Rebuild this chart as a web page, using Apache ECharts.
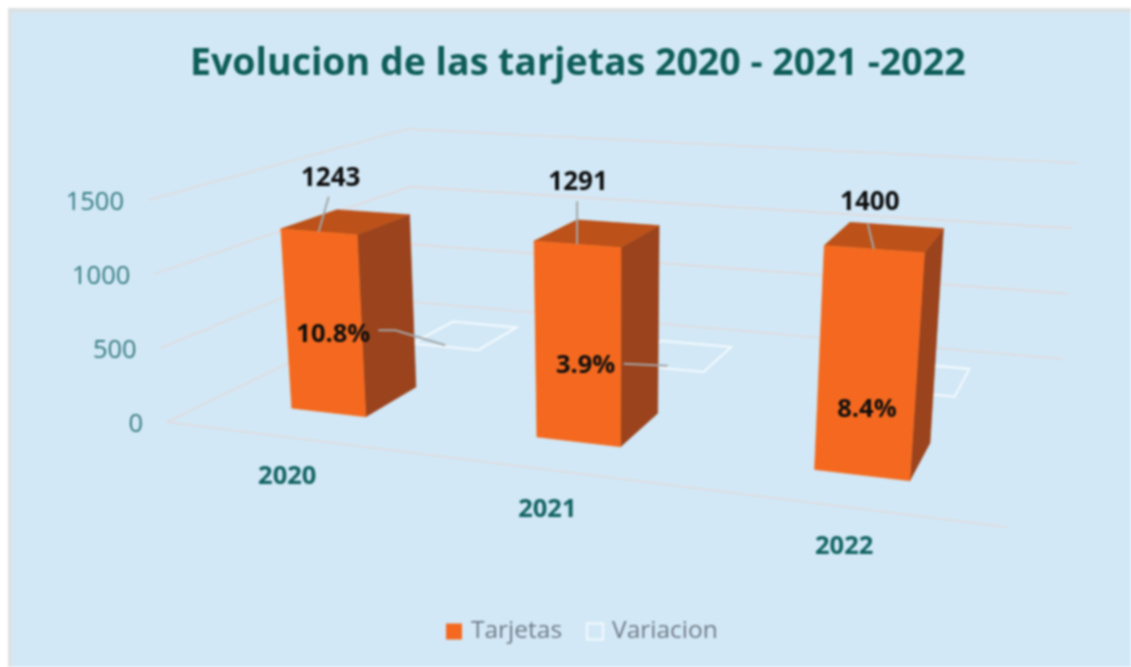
<!DOCTYPE html>
<html>
<head>
<meta charset="utf-8">
<style>
html,body{margin:0;padding:0;background:#fff;}
#chart{width:1131px;height:667px;filter:blur(0.8px);}
</style>
<script src="https://cdn.jsdelivr.net/npm/echarts@6/dist/echarts.min.js"></script>
</head>
<body>
<div id="chart"></div>
<script>
// ---- data ----
const categories = ['2020', '2021', '2022'];
const tarjetas = [1243, 1291, 1400];
const variacion = [0.108, 0.039, 0.084];
const yTicks = [0, 500, 1000, 1500];

// ---- perspective of the 3D box (pixel corners of floor and ceiling) ----
const FLOOR = [[167,422],[1007,527],[1063,359],[414,302]];
const CEIL  = [[148,200],[1031,265],[1077,163],[408,129]];
const BAR_RATIO = 0.315;
const DEPTH = { Tarjetas:[0.153,0.358], Variacion:[0.653,0.858] };
// label placement relative to the projected anchors
const VALUE_OFFSET  = [[12,-53],[1,-62],[-4,-46]];
const LEADER_START  = [[10,-35],[0,-43],[-6,-25]];
const VAR_OFFSET    = [[-132,-1],[-96,10],[-55,31]];
const VAR_LEADER    = [[[-87,-5],[-70,-5],[-20,10]],[[-58,8],[-14,10]],null];

const FONT = '"Open Sans", "Noto Sans", sans-serif';
const C = { bg:'#D2E8F6', edge:'#DDE0E2', grid:'#E2D9DB', front:'#F4691F', side:'#9B431C', top:'#BC5119',
            title:'#0E5D5A', yText:'#367B82', xText:'#126363', label:'#0E0E0E', leader:'#A3A7A9', legend:'#6F7A85' };

function homography(q){
  const [[x0,y0],[x1,y1],[x2,y2],[x3,y3]] = q;
  const dx1=x1-x2, dx2=x3-x2, sx=x0-x1+x2-x3, dy1=y1-y2, dy2=y3-y2, sy=y0-y1+y2-y3;
  const det=dx1*dy2-dx2*dy1;
  const g=(sx*dy2-dx2*sy)/det, h=(dx1*sy-sx*dy1)/det;
  const a=x1-x0+g*x1, b=x3-x0+h*x3, d=y1-y0+g*y1, e=y3-y0+h*y3;
  return (u,v)=>{const n=g*u+h*v+1; return [(a*u+b*v+x0)/n,(d*u+e*v+y0)/n];};
}
const H0=homography(FLOOR), H1=homography(CEIL);
function project(u,v,w){
  const p=H0(u,v), q=H1(u,v);
  return [p[0]+w*(q[0]-p[0]), p[1]+w*(q[1]-p[1])];
}
// map axis values into normalised box coordinates through the library's scales
function uOf(params,api,i){ const cs=params.coordSys; return (api.coord([i,0])[0]-cs.x)/cs.width; }
function wOf(params,api,val){ const cs=params.coordSys; return (cs.y+cs.height-api.coord([0,val])[1])/cs.height; }
function halfU(params,api){ return api.size([1,0])[0]*BAR_RATIO/2/params.coordSys.width; }
const add=(p,o)=>[p[0]+o[0],p[1]+o[1]];
function txt(p,text,font,fill,align){
  return {type:'text',x:p[0],y:p[1],style:{text,font,fill,align:align||'center',verticalAlign:'middle',textAlign:align||'center',textVerticalAlign:'middle'}};
}
function line(points,stroke,width){
  return {type:'polyline',shape:{points},style:{stroke,lineWidth:width,fill:null}};
}
function poly(points,fill){
  return {type:'polygon',shape:{points},style:{fill,stroke:fill,lineWidth:0.6}};
}

function renderGrid(params,api){
  const t=api.value(0), w=wOf(params,api,t);
  const children=[ line([project(0,0,w),project(0,1,w),project(1,1,w)],C.grid,1.6) ];
  if(t===0) children.push(line([project(0,0,0),project(1,0,0)],C.grid,1.6));
  children.push(txt(add(project(0,0,w),[-24,3]),String(t),'400 25.5px '+FONT,C.yText,'right'));
  return {type:'group',children};
}
function renderCat(params,api){
  const i=api.value(0), u=uOf(params,api,i);
  return txt(add(project(u,0,0),[2,40]),categories[i],'700 25.5px '+FONT,C.xText);
}
function renderBar(params,api){
  const i=api.value(0), val=api.value(1), u=uOf(params,api,i), hu=halfU(params,api), w=wOf(params,api,val);
  const [v0,v1]=DEPTH.Tarjetas, u0=u-hu, u1=u+hu;
  return {type:'group',children:[
    poly([project(u1,v0,0),project(u1,v1,0),project(u1,v1,w),project(u1,v0,w)],C.side),
    poly([project(u0,v0,w),project(u1,v0,w),project(u1,v1,w),project(u0,v1,w)],C.top),
    poly([project(u0,v0,0),project(u1,v0,0),project(u1,v0,w),project(u0,v0,w)],C.front)
  ]};
}
function renderBarLabel(params,api){
  const i=api.value(0), val=api.value(1), u=uOf(params,api,i), w=wOf(params,api,val);
  const a=project(u,DEPTH.Tarjetas[0],w);
  return {type:'group',children:[
    line([add(a,LEADER_START[i]),a],C.leader,2),
    txt(add(a,VALUE_OFFSET[i]),String(val),'700 26px '+FONT,C.label)
  ]};
}
function renderVar(params,api){
  const i=api.value(0), val=api.value(1), u=uOf(params,api,i), hu=halfU(params,api), w=wOf(params,api,val);
  const [v0,v1]=DEPTH.Variacion;
  return {type:'polygon',shape:{points:[project(u-hu,v0,w),project(u+hu,v0,w),project(u+hu,v1,w),project(u-hu,v1,w)]},
          style:{fill:'rgba(255,255,255,0)',stroke:'#F4FAFE',lineWidth:2}};
}
function renderVarLabel(params,api){
  const i=api.value(0), val=api.value(1), u=uOf(params,api,i), w=wOf(params,api,val);
  const a=project(u,(DEPTH.Variacion[0]+DEPTH.Variacion[1])/2,w);
  const children=[];
  if(VAR_LEADER[i]) children.push(line(VAR_LEADER[i].map(o=>add(a,o)),C.leader,2));
  children.push(txt(add(a,VAR_OFFSET[i]),(val*100).toFixed(1)+'%','700 25.5px '+FONT,C.label));
  return {type:'group',children};
}

const chart=echarts.init(document.getElementById('chart'),null,{renderer:'canvas'});
chart.setOption({
  animation:false,
  backgroundColor:'#fff',
  graphic:[
    {type:'rect',z:-10,shape:{x:8,y:8,width:1131,height:667},style:{fill:C.edge},silent:true},
    {type:'rect',z:-9,shape:{x:12,y:12,width:1131,height:667},style:{fill:C.bg},silent:true}
  ],
  title:{text:'Evolucion de las tarjetas 2020 - 2021 -2022',left:190,top:45,padding:0,
    textStyle:{fontFamily:FONT,fontWeight:700,fontSize:37.5,color:C.title}},
  legend:{
    bottom:18,left:441,itemWidth:16,itemHeight:16,itemGap:24,
    textStyle:{fontFamily:FONT,fontSize:24.5,color:C.legend,padding:[0,0,0,4]},
    data:[
      {name:'Tarjetas',icon:'rect',itemStyle:{color:C.front,borderWidth:0}},
      {name:'Variacion',icon:'rect',itemStyle:{color:C.bg,borderColor:'#F4FAFE',borderWidth:2}}
    ]
  },
  grid:{left:0,right:0,top:0,bottom:0},
  xAxis:{type:'category',data:categories,show:false},
  yAxis:{type:'value',min:0,max:1500,interval:500,show:false},
  series:[
    {name:'Eje',type:'custom',z:1,coordinateSystem:'cartesian2d',renderItem:renderGrid,silent:true,
      encode:{y:0},data:yTicks.map(t=>[t])},
    {name:'Categorias',type:'custom',z:1,coordinateSystem:'cartesian2d',renderItem:renderCat,silent:true,
      encode:{x:0},data:categories.map((c,i)=>[i])},
    {name:'Variacion',type:'custom',z:2,coordinateSystem:'cartesian2d',renderItem:renderVar,
      encode:{x:0,y:1},data:variacion.map((v,i)=>[i,v])},
    {name:'Tarjetas',type:'custom',z:3,coordinateSystem:'cartesian2d',renderItem:renderBar,
      encode:{x:0,y:1},data:tarjetas.map((v,i)=>[i,v])},
    {name:'Tarjetas',type:'custom',z:4,coordinateSystem:'cartesian2d',renderItem:renderBarLabel,
      encode:{x:0,y:1},data:tarjetas.map((v,i)=>[i,v])},
    {name:'Variacion',type:'custom',z:4,coordinateSystem:'cartesian2d',renderItem:renderVarLabel,
      encode:{x:0,y:1},data:variacion.map((v,i)=>[i,v])}
  ]
});
</script>
</body>
</html>
